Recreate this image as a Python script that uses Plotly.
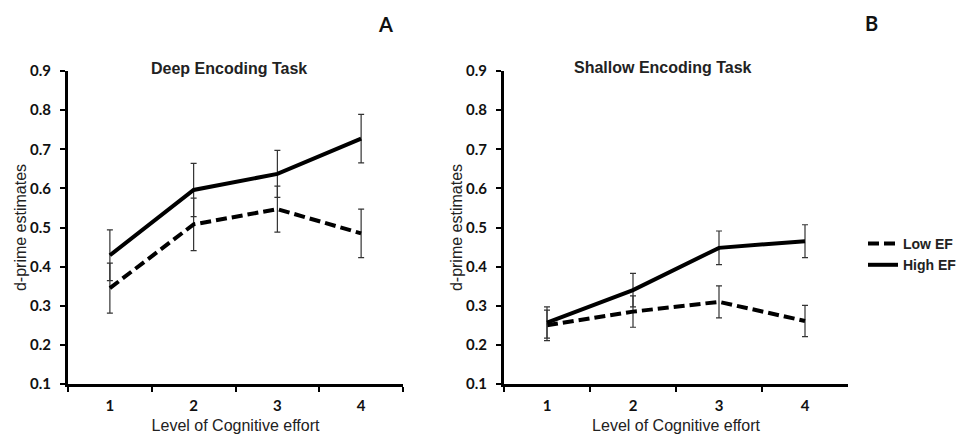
import plotly.graph_objects as go

cats = ["1", "2", "3", "4"]
deep_low = [0.345, 0.508, 0.547, 0.485]
deep_low_err = [0.064, 0.067, 0.059, 0.062]
deep_high = [0.429, 0.596, 0.637, 0.727]
deep_high_err = [0.065, 0.068, 0.060, 0.062]
shallow_low = [0.250, 0.285, 0.310, 0.261]
shallow_low_err = [0.039, 0.040, 0.041, 0.040]
shallow_high = [0.257, 0.340, 0.448, 0.465]
shallow_high_err = [0.040, 0.043, 0.043, 0.042]
y_ticks = [0.1, 0.2, 0.3, 0.4, 0.5, 0.6, 0.7, 0.8, 0.9]

TICKFONT = dict(family="Lato", size=15, color="#111", weight="bold")
TITLEFONT = dict(family="Liberation Sans", size=16, color="#222")
HEADFONT = dict(family="Liberation Sans", size=16, color="#222", weight="bold")
LEGFONT = dict(family="Liberation Sans", size=14, color="#222", weight="bold")

fig = go.Figure()

def add_pair(low, low_err, high, high_err, xa, ya, show):
    fig.add_trace(go.Scatter(
        x=cats, y=low, mode="lines", name="Low EF", showlegend=show,
        line=dict(color="black", width=4, dash="11px,5px"),
        error_y=dict(type="data", array=low_err, color="#333", thickness=1.2, width=3),
        xaxis=xa, yaxis=ya, legendrank=1))
    fig.add_trace(go.Scatter(
        x=cats, y=high, mode="lines", name="High EF", showlegend=show,
        line=dict(color="black", width=4),
        error_y=dict(type="data", array=high_err, color="#333", thickness=1.2, width=3),
        xaxis=xa, yaxis=ya, legendrank=2))

add_pair(deep_low, deep_low_err, deep_high, deep_high_err, "x", "y", True)
add_pair(shallow_low, shallow_low_err, shallow_high, shallow_high_err, "x2", "y2", False)

ydom = [1 - 384 / 434, 1 - 71 / 434]

def xaxis(dom, anchor):
    return dict(domain=dom, anchor=anchor, type="category", range=[-0.5, 3.5],
                tickson="boundaries", ticks="outside", ticklen=5, tickwidth=2,
                tickcolor="black", showline=True, linecolor="black", linewidth=3,
                showgrid=False, zeroline=False, tickfont=TICKFONT, ticklabelstandoff=6,
                title=dict(text="Level of Cognitive effort", font=TITLEFONT, standoff=9),
                automargin=False)

def yaxis(anchor):
    return dict(domain=ydom, anchor=anchor, range=[0.1, 0.9], tickvals=y_ticks,
                tickformat=".1f", ticks="outside", ticklen=5, tickwidth=2,
                tickcolor="black", showline=True, linecolor="black", linewidth=3,
                showgrid=False, zeroline=False, tickfont=TICKFONT, ticklabelstandoff=6,
                title=dict(text="d-prime estimates", font=TITLEFONT, standoff=0),
                automargin=False)

fig.update_layout(
    width=969, height=434, autosize=False,
    margin=dict(l=0, r=0, t=0, b=0),
    paper_bgcolor="white", plot_bgcolor="white",
    xaxis=xaxis([68 / 969, 403 / 969], "y"),
    yaxis=yaxis("x"),
    xaxis2=xaxis([504 / 969, 848 / 969], "y2"),
    yaxis2=yaxis("x2"),
    showlegend=True,
    legend=dict(x=863 / 969, y=1 - 228 / 434, xanchor="left", yanchor="top",
                font=LEGFONT, bgcolor="rgba(0,0,0,0)", itemwidth=30,
                tracegroupgap=0),
)

fig.add_annotation(text="Deep Encoding Task", x=229 / 969, y=1 - 68 / 434, xref="paper",
                   yref="paper", showarrow=False, font=HEADFONT, xanchor="center", yanchor="middle")
fig.add_annotation(text="Shallow Encoding Task", x=663 / 969, y=1 - 67 / 434, xref="paper",
                   yref="paper", showarrow=False, font=HEADFONT, xanchor="center", yanchor="middle")
fig.add_annotation(text="A", x=385 / 969, y=1 - 24 / 434, xref="paper", yref="paper",
                   showarrow=False, font=dict(family="Lato", size=20, color="#111", weight="bold"),
                   xanchor="center", yanchor="middle")
fig.add_annotation(text="B", x=871 / 969, y=1 - 23 / 434, xref="paper", yref="paper",
                   showarrow=False, font=dict(family="Lato", size=20, color="#111", weight="bold"),
                   xanchor="center", yanchor="middle")

fig.write_html("out.html", config={"displayModeBar": False})
with open("out.html", encoding="utf-8") as f:
    html = f.read()
html = html.replace("<head>", "<head><style>body{margin:0;overflow:hidden}</style>", 1)
with open("out.html", "w", encoding="utf-8") as f:
    f.write(html)
